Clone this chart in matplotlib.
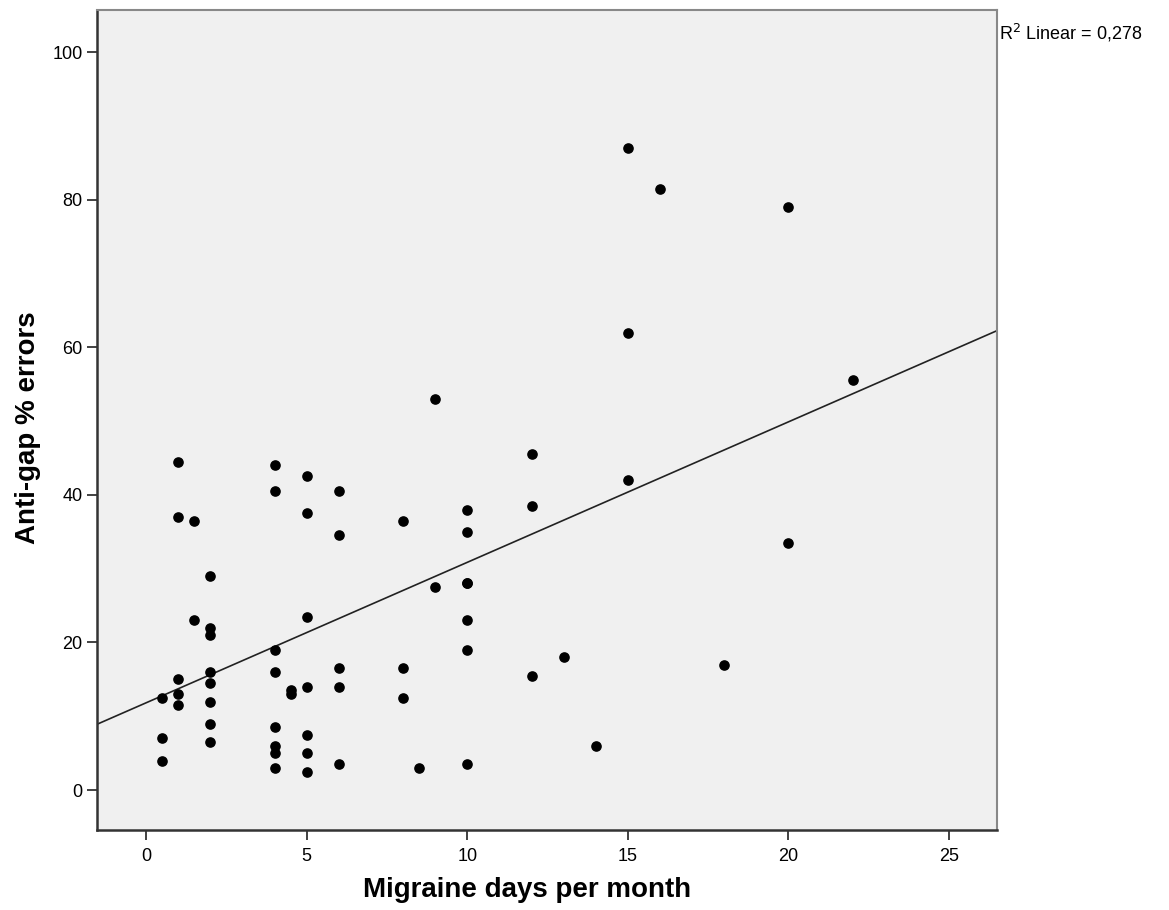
import numpy as np
import matplotlib
matplotlib.use("Agg")
import matplotlib.pyplot as plt

plt.rcParams['font.family'] = ['Liberation Sans', 'DejaVu Sans']

# migraine days per month vs anti-gap % errors
days = [0.5, 0.5, 0.5,
        1, 1, 1, 1, 1,
        1.5, 1.5,
        2, 2, 2, 2, 2, 2, 2, 2,
        4, 4, 4, 4, 4, 4, 4, 4,
        4.5, 4.5,
        5, 5, 5, 5, 5, 5, 5,
        6, 6, 6, 6, 6,
        8, 8, 8,
        8.5,
        9, 9,
        10, 10, 10, 10, 10, 10, 10,
        12, 12, 12,
        13, 14,
        15, 15, 15,
        16, 18,
        20, 20,
        22]
errors = [12.5, 7, 4,
          44.5, 37, 15, 13, 11.5,
          36.5, 23,
          29, 22, 21, 16, 14.5, 12, 9, 6.5,
          44, 40.5, 19, 16, 8.5, 6, 5, 3,
          13.5, 13,
          42.5, 37.5, 23.5, 14, 7.5, 5, 2.5,
          40.5, 34.5, 16.5, 14, 3.5,
          36.5, 16.5, 12.5,
          3,
          53, 27.5,
          38, 35, 28, 28, 23, 19, 3.5,
          45.5, 38.5, 15.5,
          18, 6,
          87, 62, 42,
          81.5, 17,
          79, 33.5,
          55.5]

x_ticks = [0, 5, 10, 15, 20, 25]
y_ticks = [0, 20, 40, 60, 80, 100]
r2_label = "R$^2$ Linear = 0,278"

fig = plt.figure(figsize=(11.69, 9.10), dpi=100)
ax = fig.add_axes([0.083, 0.088, 0.770, 0.901])
ax.set_facecolor('#f0f0f0')

ax.scatter(days, errors, s=44, color='black', zorder=3)

# least squares fit line across the whole x range
slope, intercept = np.polyfit(days, errors, 1)
xlim = (-1.53, 26.5)
xs = np.array(xlim)
ax.plot(xs, intercept + slope * xs, color='#222222', linewidth=1.2, zorder=2)

ax.set_xlim(xlim)
ax.set_ylim(-5.4, 105.7)
ax.set_xticks(x_ticks)
ax.set_yticks(y_ticks)
ax.tick_params(direction='out', length=7, width=1.3, color='#333333', labelsize=13)
ax.tick_params(axis='x', pad=6)

for side in ['left', 'bottom']:
    ax.spines[side].set_color('#333333')
    ax.spines[side].set_linewidth(1.8)
for side in ['top', 'right']:
    ax.spines[side].set_color('#888888')
    ax.spines[side].set_linewidth(1.5)

ax.set_xlabel('Migraine days per month', fontsize=20, fontweight='bold')
ax.set_ylabel('Anti-gap % errors', fontsize=20, fontweight='bold')
ax.xaxis.set_label_coords(0.478, -0.058)
ax.yaxis.set_label_coords(-0.062, 0.49)

fig.text(0.855, 0.964, r2_label, fontsize=13, ha='left', va='center')

fig.savefig('out.png', dpi=100, facecolor='white')
